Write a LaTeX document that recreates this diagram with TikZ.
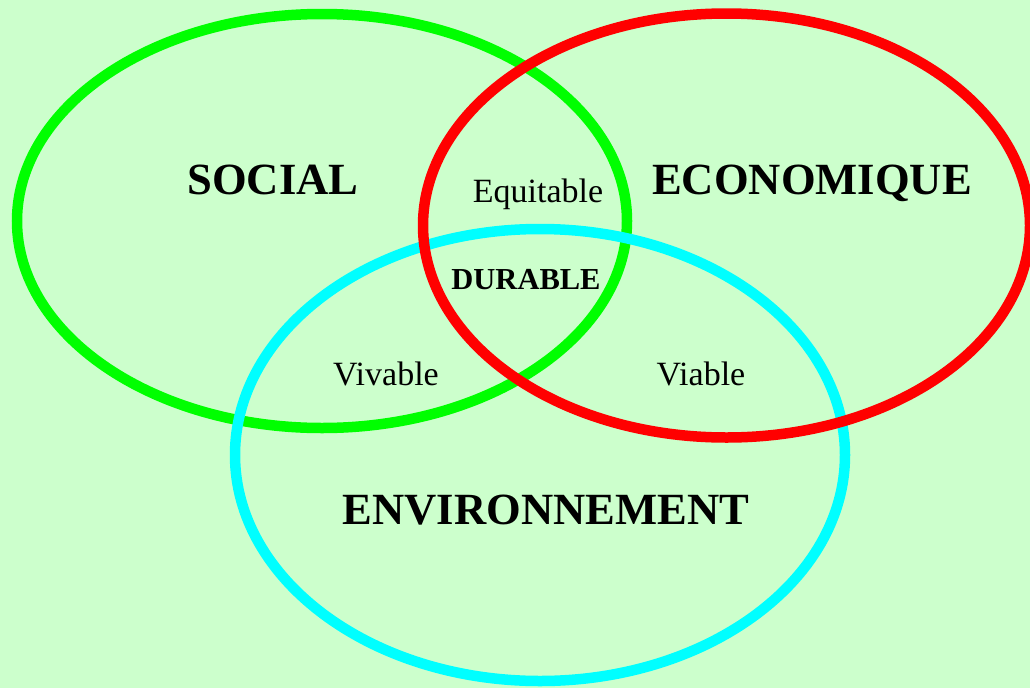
\documentclass[tikz,border=0pt]{standalone}
\usepackage{fontspec}
\setmainfont{Liberation Serif}
\definecolor{bgreen}{HTML}{CCFFCC}
\definecolor{socgreen}{HTML}{00FF00}
\definecolor{envcyan}{HTML}{00FFFF}
\definecolor{ecored}{HTML}{FF0000}
\tikzset{
	pole/.style={font=\fontsize{44.6}{44.6}\selectfont\bfseries,anchor=base},
	inter/.style={font=\fontsize{34}{34}\selectfont,anchor=base},
	ring/.style={line width=10.5pt}
}
\begin{document}
\begin{tikzpicture}[x=1pt,y=-1pt]
	%========
	%Background
	%========
	\fill[bgreen] (0,0) rectangle (1030,688);
	\useasboundingbox (0,0) rectangle (1030,688);
	\begin{scope}
	\clip (0,0) rectangle (1030,688);
	%========
	%Ellipses
	%========
	\draw[ring,socgreen] (322,221) ellipse (305 and 207);	%Social
	\draw[ring,envcyan] (540,455) ellipse (305 and 226);	%Environnement
	\draw[ring,ecored] (726.5,225.5) ellipse (303.5 and 212);	%Economique
	\end{scope}
	%========
	%Labels
	%========
	\node[pole] (social) at (273,194) {SOCIAL};
	\node[pole] (eco) at (812,194) {ECONOMIQUE};
	\node[pole] (env) at (546,524) {ENVIRONNEMENT};
	
	\node[inter] (equit) at (538,202) {Equitable};
	\node[inter] (vivab) at (386,385) {Vivable};
	\node[inter] (viab) at (701,385) {Viable};
	
	\node[anchor=base,font=\fontsize{30.5}{30.5}\selectfont\bfseries] (durable) at (526,289) {DURABLE};
\end{tikzpicture}
\end{document}
